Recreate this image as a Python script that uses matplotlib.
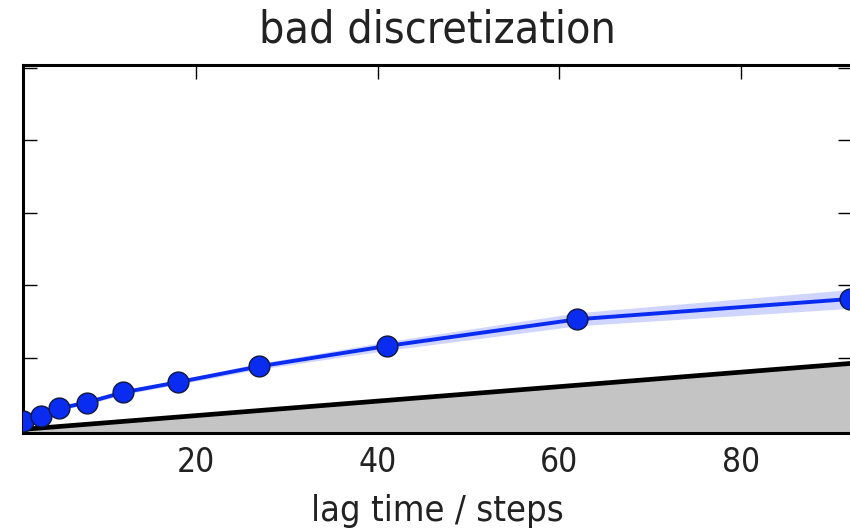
import numpy as np
import matplotlib
matplotlib.use("Agg")
import matplotlib.pyplot as plt

# implied timescale estimates per lag time
lags = np.array([1, 3, 5, 8, 12, 18, 27, 41, 62, 92])
timescales = np.array([13, 20, 30, 38, 52, 66, 88, 116, 153, 181])
conf_halfwidth = np.array([1, 2, 2, 3, 3, 3, 4, 6, 9, 13])
xticks = [20, 40, 60, 80]
yticks = [0, 100, 200, 300, 400, 500]

fig = plt.figure(figsize=(8.5, 5.32), dpi=100)
ax = fig.add_axes([23 / 850, 99 / 532, 829 / 850, 368 / 532])

ax.set_xlim(1, 92.2)
ax.set_ylim(-4, 504)

# lag time line with grey area underneath
ax.plot(lags, lags, color="k", lw=3.4, zorder=3)
ax.fill_between(lags, lags, ax.get_ylim()[0], color="0.77", lw=0, zorder=2)

# timescales with confidence band
ax.fill_between(lags, timescales - conf_halfwidth, timescales + conf_halfwidth,
                color="#2a44ff", alpha=0.22, lw=0, zorder=4)
ax.plot(lags, timescales, "-o", color="#0a2cf0", lw=2.8, ms=15,
        mec="#101840", mew=1.0, zorder=5)

ax.set_xticks(xticks)
ax.set_yticks(yticks)
ax.set_yticklabels([])
ax.tick_params(direction="in", length=10, width=1.0, top=True, right=True,
               labelsize=24, pad=9)
for lab in ax.get_xticklabels():
    lab.set_fontstretch("condensed")
    lab.set_color("#222222")
for sp in ax.spines.values():
    sp.set_linewidth(2.2)

ax.set_xlabel("lag time / steps", fontsize=26, fontstretch="condensed",
              color="#222222", labelpad=11)
ax.set_title("bad discretization", fontsize=32, fontstretch="condensed",
             color="#222222", pad=16)

fig.savefig("out.png", dpi=100)
